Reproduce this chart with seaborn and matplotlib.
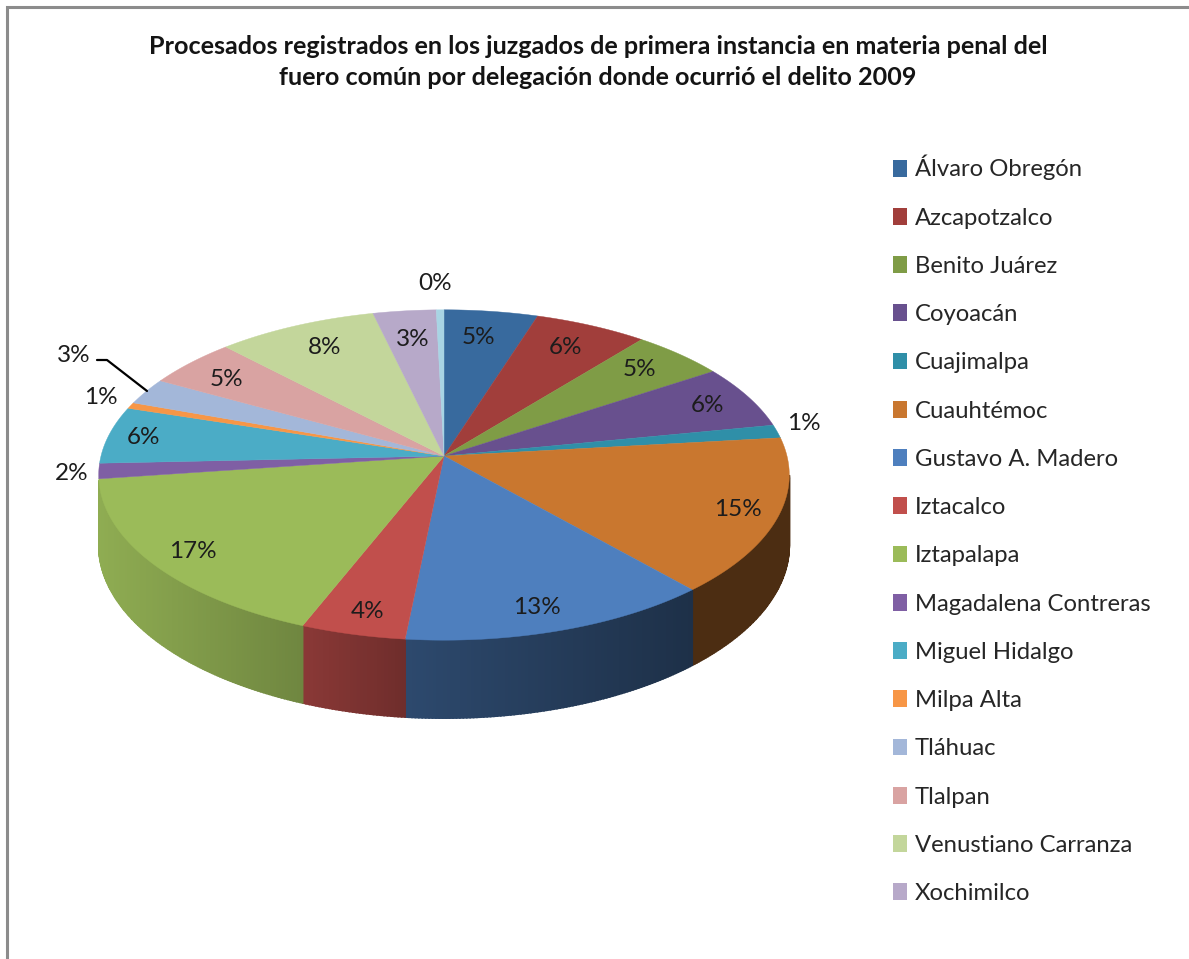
import numpy as np
import matplotlib
matplotlib.use("Agg")
import matplotlib.pyplot as plt
from matplotlib.patches import Patch
import seaborn as sns

# values (percent)
delegaciones = ["Álvaro Obregón", "Azcapotzalco", "Benito Juárez", "Coyoacán", "Cuajimalpa",
                "Cuauhtémoc", "Gustavo A. Madero", "Iztacalco", "Iztapalapa",
                "Magadalena Contreras", "Miguel Hidalgo", "Milpa Alta", "Tláhuac",
                "Tlalpan", "Venustiano Carranza", "Xochimilco", ""]
valores = [4.9, 5.9, 4.9, 6.2, 1.3, 15.3, 13.1, 4.4, 16.8, 1.5, 5.6, 0.6, 2.6, 4.8, 8.4, 3.3, 0.4]
colores = ["#386A9E", "#A13E3B", "#7F9C46", "#68508E", "#2F8FA8", "#C9772F", "#4E7FBE", "#C14F4C",
           "#9BBB59", "#7F5FA4", "#4BACC6", "#F79646", "#A3B7D9", "#D9A3A2", "#C3D69B", "#B7A9C9",
           "#A8D4E4"]

titulo = ("Procesados registrados en los juzgados de primera instancia en materia penal del\n"
          "fuero común por delegación donde ocurrió el delito 2009")

# layout, in pixels of the image
CX, CY = 444, 456
RX, RY = 343, 163
PERSP = 0.115
ALTO = 69
pos_etiquetas = [(478, 338), (565, 348), (639, 370), (707, 406), (804, 424), (738, 510),
                 (537, 607), (368, 612), (193, 551), (72, 474), (144, 438), (101, 398),
                 (74, 356), (226, 379), (325, 347), (413, 339), (435, 284)]


def borde(t):
    # rim of the tilted disc, with perspective
    t = np.asarray(t, dtype=float)
    w = 1 + PERSP * np.cos(t)
    return CX + RX * np.sin(t) / w, CY - RY * np.cos(t) / w, w


def sombra(x):
    return np.interp(x, [100, 300, 400, 690, 790], [0.92, 0.72, 0.58, 0.38, 0.38])


sns.set_theme(style="white")
plt.rcParams["font.family"] = ["Lato", "DejaVu Sans"]
paleta = sns.color_palette(colores)

fig = plt.figure(figsize=(11.89, 9.59), dpi=100)
ax = fig.add_axes([0, 0, 1, 1])
ax.set_xlim(0, 1189)
ax.set_ylim(959, 0)
ax.axis("off")

# frame of the pasted chart
ax.plot([7, 7, 1189], [959, 7, 7], color="#8c8c8c", lw=2.2, solid_joinstyle="miter")

limites = np.radians(np.cumsum([0] + valores) / np.sum(valores) * 360)

# side wall, only the front part of the rim shows
t_ini, t_fin = np.radians(96.6), np.radians(261.5)
for i, col in enumerate(paleta):
    a, b = max(limites[i], t_ini), min(limites[i + 1], t_fin)
    if a >= b:
        continue
    ts = np.linspace(a, b, max(int(np.degrees(b - a) * 2), 2))
    for t0, t1 in zip(ts[:-1], ts[1:]):
        x0, y0, w0 = borde(t0)
        x1, y1, w1 = borde(t1)
        c = np.array(col) * sombra((x0 + x1) / 2)
        ax.fill([x0, x1, x1, x0], [y0, y1, y1 + ALTO / w1, y0 + ALTO / w0],
                facecolor=c, edgecolor=c, lw=1.2, zorder=2)

# top of the pie
for i, col in enumerate(paleta):
    ts = np.linspace(limites[i], limites[i + 1], 60)
    x, y, _ = borde(ts)
    ax.fill(np.r_[CX, x], np.r_[CY, y], color=col, lw=0.3, zorder=3)

# percent labels
for v, (lx, ly) in zip(valores, pos_etiquetas):
    ax.text(lx, ly, f"{v:.0f}%", ha="center", va="center", fontsize=17.5, color="#1c1c1c", zorder=4)

# leader line of the Tláhuac label
ax.plot([97, 107, 147], [360, 360, 391], color="black", lw=1.6, zorder=4)

ax.text(598, 62, titulo, ha="center", va="center", fontsize=18.1, fontweight="bold",
        color="#141414", linespacing=1.46)

marcas = [Patch(facecolor=c, edgecolor="none") for c in paleta[:16]]
ax.legend(marcas, delegaciones[:16], loc="upper left", bbox_to_anchor=(893 / 1189, 1 - 155 / 959),
          frameon=False, fontsize=17.2, labelspacing=1.14, handlelength=0.58, handleheight=0.7,
          handletextpad=0.33, labelcolor="#262626", borderpad=0, borderaxespad=0)

fig.savefig("out.png", dpi=100)
